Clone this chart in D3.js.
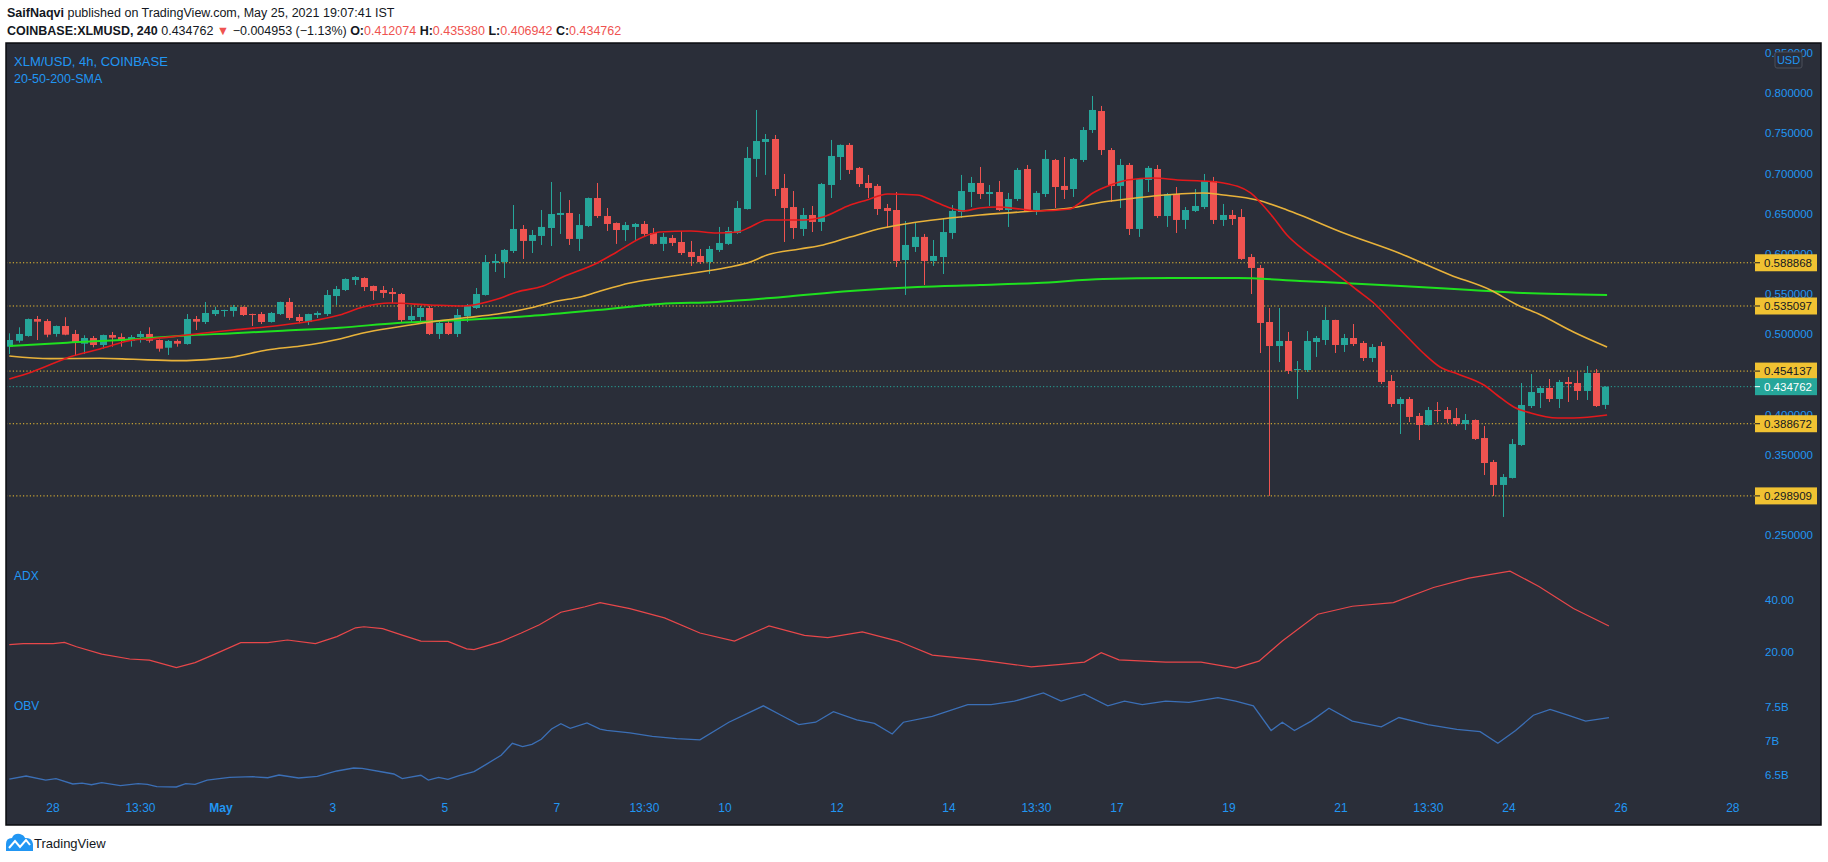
<!DOCTYPE html>
<html><head><meta charset="utf-8">
<script src="https://cdn.jsdelivr.net/npm/d3@7"></script>
<style>
body{margin:0;background:#fff;}
svg{display:block;font-family:"Liberation Sans",Arial,sans-serif;}
</style>
</head><body>
<svg id="chart" width="1828" height="862"></svg>
<script>
// ---------------- DATA ----------------
const firstBar = "2021-04-27T05:30";   // IST wall-clock time of first 4h bar
const opens = [.4845,.4919,.4978,.5189,.5164,.5003,.5102,.5003,.4882,.4953,.4866,.4990,.4965,.4916,.4965,.5003,.4928,.4832,.4916,.4878,
.5189,.5152,.5251,.5292,.5289,.5339,.5251,.5251,.5152,.5251,.5401,.5214,.5152,.5239,.5251,.5475,.5550,.5674,.5699,.5600,
.5550,.5525,.5500,.5177,.5214,.5326,.5003,.5140,.5003,.5227,.5326,.5488,.5886,.5898,.6035,.6309,.6160,.6222,.6321,.6483,
.6508,.6185,.6346,.6694,.6470,.6383,.6296,.6334,.6371,.6259,.6123,.6197,.6147,.6023,.5973,.5898,.6048,.6123,.6259,.6557,
.7180,.7391,.7428,.6819,.6582,.6309,.6483,.6396,.6856,.7204,.7354,.7068,.6881,.6844,.6570,.6545,.5923,.6085,.6210,.5911,
.5960,.6259,.6520,.6769,.6881,.6744,.6769,.6545,.6682,.7055,.6545,.6744,.7167,.6844,.6806,.7167,.7540,.7776,.7291,.6844,
.7105,.6309,.6918,.7055,.6470,.6744,.6421,.6533,.6582,.6906,.6421,.6483,.6458,.5960,.5824,.5152,.4853,.4916,.4555,.4555,
.4903,.4928,.5177,.4866,.4953,.4891,.4704,.4853,.4418,.4132,.4194,.3983,.3871,.4057,.4057,.3958,.3883,.3933,.3709,.3411,
.3125,.3212,.3622,.4107,.4269,.4331,.4194,.4406,.4393,.4294,.4518,.412074];
const highs = [.5011,.5086,.5195,.5227,.5189,.5108,.5211,.5053,.4987,.4978,.4995,.5028,.5011,.4990,.5040,.5086,.4935,.4928,.4936,.5251,
.5227,.5401,.5342,.5305,.5364,.5345,.5255,.5276,.5276,.5405,.5451,.5251,.5255,.5285,.5550,.5600,.5695,.5724,.5708,.5605,
.5600,.5575,.5513,.5339,.5351,.5351,.5177,.5177,.5314,.5376,.5575,.5985,.5998,.6060,.6607,.6358,.6296,.6545,.6893,.6769,
.6669,.6495,.6700,.6881,.6570,.6390,.6396,.6383,.6408,.6321,.6259,.6234,.6284,.6160,.6060,.6097,.6334,.6334,.6657,.7329,
.7789,.7490,.7478,.6993,.6781,.6570,.6595,.6881,.7416,.7360,.7378,.7080,.6981,.6868,.6620,.6769,.6408,.6383,.6247,.6172,
.6446,.6607,.6981,.6956,.7080,.6856,.6906,.6757,.7068,.7105,.6781,.7291,.7180,.7204,.7192,.7577,.7963,.7839,.7316,.7180,
.7130,.6943,.7092,.7105,.6757,.6831,.6582,.6806,.6993,.6956,.6620,.6545,.6557,.5998,.5861,.5326,.5326,.5028,.4667,.5040,
.4978,.5339,.5180,.5003,.5127,.4916,.4878,.4903,.4493,.4219,.4219,.4020,.4095,.4157,.4095,.4082,.4008,.3940,.3858,.3436,
.3261,.3697,.4393,.4505,.4356,.4443,.4431,.4468,.4543,.4605,.4567,.435380];
const lows = [.4754,.4895,.4969,.4928,.4962,.4969,.4987,.4729,.4754,.4837,.4820,.4845,.4845,.4845,.4895,.4895,.4783,.4742,.4845,.4870,
.5053,.5127,.5227,.5218,.5218,.5227,.5102,.5127,.5145,.5239,.5177,.5136,.5115,.5202,.5227,.5364,.5537,.5612,.5537,.5426,
.5451,.5388,.5140,.5152,.5152,.4990,.4941,.4990,.4965,.5152,.5314,.5480,.5774,.5699,.6010,.5936,.6010,.6110,.6097,.6247,
.6110,.6035,.6334,.6446,.6284,.6123,.6160,.6172,.6222,.6115,.6035,.6097,.5985,.5849,.5873,.5749,.6023,.6110,.6247,.6550,
.6956,.6981,.6719,.6147,.6185,.6222,.6271,.6284,.6694,.6918,.6993,.6831,.6694,.6483,.6321,.5836,.5488,.6023,.5612,.5849,
.5749,.6185,.6446,.6582,.6682,.6595,.6533,.6334,.6657,.6520,.6483,.6707,.6570,.6682,.6707,.7142,.7503,.7229,.6645,.6570,
.6234,.6210,.6769,.6446,.6334,.6259,.6309,.6520,.6557,.6371,.6346,.6358,.5923,.5500,.4766,.2989,.4654,.4505,.4194,.4530,
.4717,.4866,.4766,.4779,.4853,.4667,.4654,.4381,.4095,.3759,.3908,.3684,.3865,.3908,.3896,.3858,.3809,.3684,.3249,.2988,
.2727,.3205,.3610,.4082,.4082,.4157,.4082,.4157,.4182,.4182,.4095,.406942];
const closes = [.4928,.5003,.5189,.5156,.4994,.5102,.4994,.4895,.4953,.4866,.4990,.4957,.4916,.4965,.5003,.4919,.4820,.4916,.4882,.5189,
.5156,.5264,.5301,.5301,.5339,.5239,.5239,.5152,.5264,.5401,.5202,.5164,.5251,.5264,.5488,.5562,.5687,.5712,.5587,.5537,
.5513,.5500,.5177,.5227,.5326,.5003,.5140,.5003,.5239,.5351,.5500,.5898,.5911,.6048,.6309,.6160,.6234,.6334,.6495,.6508,
.6185,.6358,.6694,.6470,.6371,.6296,.6358,.6371,.6247,.6123,.6210,.6135,.6010,.5960,.5898,.6060,.6135,.6284,.6570,.7192,
.7403,.7428,.6806,.6570,.6321,.6483,.6396,.6868,.7217,.7354,.7043,.6868,.6819,.6557,.6533,.5911,.6110,.6210,.5911,.5973,
.6271,.6533,.6781,.6881,.6744,.6769,.6545,.6682,.7043,.6533,.6757,.7180,.6831,.6794,.7180,.7540,.7789,.7291,.6844,.7105,
.6309,.6931,.7068,.6470,.6744,.6421,.6545,.6595,.6906,.6421,.6483,.6433,.5936,.5824,.5140,.4853,.4916,.4543,.4567,.4916,
.4953,.5177,.4866,.4953,.4878,.4704,.4841,.4406,.4132,.4194,.3971,.3871,.4057,.4045,.3946,.3883,.3933,.3697,.3398,.3125,
.3224,.3634,.4120,.4281,.4331,.4194,.4406,.4381,.4294,.4518,.4107,.434762];

// moving averages: [bar index, value]
const sma20 = [[0,.4443],[2.5,.4534],[6.8,.4729],[9.7,.4816],[13.3,.4928],[15.1,.4941],[19,.4990],[24,.5053],[28.7,.5106],[33,.5177],[35.4,.5239],[37.9,.5339],[40.8,.5388],[45.1,.5364],[48.6,.5351],[52.3,.5438],[54.4,.5525],[57.2,.5600],[59.3,.5712],[63,.5886],[65.1,.6023],[67.9,.6210],[69.7,.6271],[73,.6284],[75.8,.6259],[78,.6271],[79.4,.6334],[81.2,.6421],[85.1,.6421],[87.2,.6458],[90.1,.6607],[91.9,.6669],[94.1,.6744],[97.3,.6731],[99,.6657],[100.8,.6570],[102.2,.6533],[104,.6570],[105.9,.6582],[108.3,.6557],[110.1,.6533],[113.7,.6557],[114.4,.6607],[116.1,.6757],[118,.6856],[119.8,.6918],[122.6,.6943],[125.2,.6918],[127.9,.6906],[130.1,.6881],[133,.6757],[134,.6645],[135.4,.6458],[136.9,.6234],[138.3,.6085],[141.4,.5823],[144.4,.5550],[146.2,.5388],[148,.5177],[149.8,.4965],[151.5,.4766],[153.3,.4592],[155.2,.4505],[156.9,.4431],[158,.4368],[159.4,.4244],[161.2,.4095],[163,.4020],[165.9,.3958],[167.6,.3958],[171.2,.3995]];
const sma50 = [[0,.4729],[4.4,.4696],[9.7,.4701],[13.3,.4688],[18,.4671],[22.3,.4696],[24,.4717],[27.6,.4804],[31.2,.4853],[35.4,.4941],[37.9,.5015],[41.6,.5090],[45.1,.5152],[48.6,.5202],[52.3,.5251],[55.8,.5326],[58.7,.5413],[61.2,.5463],[63,.5525],[66.5,.5637],[69.7,.5699],[74,.5774],[77.2,.5836],[79.4,.5898],[81.2,.5985],[84.7,.6060],[87.2,.6110],[90.1,.6209],[93.6,.6321],[97.3,.6396],[100.8,.6446],[104,.6483],[108.3,.6520],[113.7,.6570],[117.2,.6645],[119.8,.6682],[122.6,.6719],[127.9,.6757],[130.1,.6731],[133.7,.6669],[136.9,.6545],[138.3,.6483],[142.7,.6271],[148.9,.6010],[154.4,.5737],[158.7,.5550],[161.6,.5364],[164.1,.5239],[167.6,.5028],[171.2,.4841]];
const sma200 = [[0,.4854],[6.2,.4895],[13.3,.4937],[18.6,.4982],[24,.5012],[29.3,.5044],[35.4,.5081],[41.6,.5140],[48.6,.5177],[55.8,.5227],[63,.5301],[69.7,.5376],[75.8,.5401],[82.9,.5463],[90.1,.5537],[97.3,.5587],[104,.5612],[110.1,.5637],[117.2,.5687],[124.4,.5699],[131.6,.5699],[138.3,.5662],[149.1,.5600],[156.6,.5550],[162.2,.5513],[171.2,.5488]];
const adx = [[0,22.8],[1.5,23.2],[4.7,23.2],[5.9,23.7],[7.2,22.0],[9.9,19.2],[12.9,17.3],[15,16.9],[17.9,14.0],[19.9,15.9],[21.9,19.0],[24.8,23.6],[27.7,23.6],[29.8,24.6],[32.8,23.2],[35.1,25.9],[37.1,29.3],[38,29.7],[40,29.0],[42.1,26.5],[44.1,24.2],[47,24.1],[49,21.2],[49.8,20.9],[52.7,24.0],[54.8,27.2],[56.8,30.5],[59.1,35.3],[60.5,36.4],[61.7,37.4],[63.3,39.0],[66.5,36.7],[70.2,33.1],[74,27.3],[77.7,24.2],[81.4,30.0],[85.2,26.4],[87.7,25.5],[91.4,27.7],[95.2,24.2],[98.9,18.8],[103.9,17.0],[109.5,14.3],[112.7,15.2],[115.2,16.1],[117,19.7],[118.9,17.0],[123.9,16.1],[127.7,16.1],[131.4,13.8],[133.9,16.5],[136.4,24.2],[140.2,34.5],[143.9,37.6],[148.3,39.0],[152.6,44.8],[156.4,48.4],[160.8,51.1],[163.9,45.2],[167.6,36.7],[171.4,30.0]];
const obv = [[0,6.441],[1.8,6.485],[3.9,6.426],[5,6.446],[6.8,6.368],[7.8,6.382],[8.8,6.357],[9.9,6.387],[11.9,6.343],[13.8,6.372],[14.8,6.363],[15.8,6.328],[17.9,6.324],[18.9,6.372],[19.9,6.363],[21.2,6.426],[23.6,6.466],[26.1,6.475],[27.7,6.460],[28.9,6.500],[31,6.456],[33,6.481],[35.1,6.559],[36.9,6.603],[37.8,6.598],[40,6.544],[41.2,6.515],[42.1,6.446],[44.1,6.496],[44.9,6.426],[46,6.466],[47,6.437],[48.2,6.490],[49.8,6.549],[51.1,6.657],[52.7,6.790],[53.9,6.966],[55,6.917],[56,6.951],[57,7.025],[58.1,7.176],[59.1,7.255],[60.1,7.186],[61.9,7.265],[63.3,7.176],[64,7.155],[66.5,7.121],[68.9,7.069],[71.5,7.034],[74,7.017],[77.1,7.276],[80.8,7.517],[82.7,7.379],[84.6,7.241],[86.4,7.276],[88.3,7.431],[90.8,7.310],[92.7,7.259],[94.6,7.103],[95.8,7.276],[98.9,7.362],[102.7,7.534],[105.2,7.534],[107.7,7.586],[110.8,7.707],[112.7,7.586],[115.2,7.690],[117.7,7.517],[119.5,7.586],[121.4,7.534],[123.9,7.586],[126.4,7.569],[129.5,7.638],[131.4,7.586],[133.3,7.517],[135.2,7.155],[136.4,7.276],[137.7,7.155],[139.5,7.293],[141.4,7.483],[143.9,7.293],[147,7.207],[148.9,7.345],[152,7.241],[155.1,7.172],[157.6,7.138],[159.5,6.966],[161.4,7.155],[163.3,7.379],[165.1,7.466],[167,7.379],[168.9,7.293],[171.4,7.345]];

const levels = [0.588868, 0.535097, 0.454137, 0.388672, 0.298909];
const lastPrice = 0.434762;
const priceTicks = [0.25,0.30,0.35,0.40,0.45,0.50,0.55,0.60,0.65,0.70,0.75,0.80,0.85];
const adxTicks = [20, 40];
const obvTicks = [6.5, 7, 7.5];
const obvTickLabels = ["6.5B","7B","7.5B"];
const timeTicks = ["2021-04-28T00:00","2021-04-29T13:30","2021-05-01T00:00","2021-05-03T00:00","2021-05-05T00:00","2021-05-07T00:00","2021-05-08T13:30","2021-05-10T00:00","2021-05-12T00:00","2021-05-14T00:00","2021-05-15T13:30","2021-05-17T00:00","2021-05-19T00:00","2021-05-21T00:00","2021-05-22T13:30","2021-05-24T00:00","2021-05-26T00:00","2021-05-28T00:00"];
const timeTickLabels = ["28","13:30","May","3","5","7","13:30","10","12","14","13:30","17","19","21","13:30","24","26","28"];

// ---------------- LAYOUT ----------------
const svg = d3.select("#chart");
const BG = "#2a2e39", UP = "#26a69a", DN = "#ef5350", BLUE = "#2196f3", YEL = "#f0c232";
const frame = {x0: 6, x1: 1821, y0: 43, y1: 825};
const plotRight = 1755;
const parseT = d3.utcParse("%Y-%m-%dT%H:%M");
const t0 = parseT(firstBar);
const H4 = 4 * 3600 * 1000;
const barTime = i => new Date(+t0 + i * H4);

const x = d3.scaleUtc()
  .domain([parseT("2021-04-27T04:05"), parseT("2021-05-28T09:42")])
  .range([frame.x0, plotRight]);
const y = d3.scaleLinear().domain([0.2254, 0.8622]).range([555, frame.y0]);
const yAdx = d3.scaleLinear().domain([5.38, 55.38]).range([690, 560]);
const yObv = d3.scaleLinear().domain([6.206, 7.75]).range([795, 690]);

// header
const h1 = svg.append("text").attr("x", 7).attr("y", 17).attr("font-size", 12.5).attr("fill", "#131722");
h1.append("tspan").attr("font-weight", "bold").text("SaifNaqvi");
h1.append("tspan").text(" published on TradingView.com, May 25, 2021 19:07:41 IST");
const h2 = svg.append("text").attr("x", 7).attr("y", 35).attr("font-size", 12.5).attr("fill", "#131722");
h2.append("tspan").attr("font-weight", "bold").text("COINBASE:XLMUSD, 240");
h2.append("tspan").text(" 0.434762 ");
h2.append("tspan").attr("fill", DN).text("▼");
h2.append("tspan").text(" −0.004953 (−1.13%) ");
[["O:", "0.412074"], ["H:", "0.435380"], ["L:", "0.406942"], ["C:", "0.434762"]].forEach((p, k) => {
  h2.append("tspan").attr("font-weight", "bold").text((k ? " " : "") + p[0]);
  h2.append("tspan").attr("fill", DN).text(p[1]);
});

// frame
svg.append("rect").attr("x", frame.x0).attr("y", frame.y0)
  .attr("width", frame.x1 - frame.x0).attr("height", frame.y1 - frame.y0)
  .attr("fill", BG).attr("stroke", "#0b0c10").attr("stroke-width", 1.5);

svg.append("defs").append("clipPath").attr("id", "plotClip")
  .append("rect").attr("x", frame.x0 + 1).attr("y", frame.y0 + 1)
  .attr("width", plotRight - frame.x0 - 1).attr("height", frame.y1 - frame.y0 - 2);
const plot = svg.append("g").attr("clip-path", "url(#plotClip)");

// level lines
plot.selectAll("line.lvl").data(levels).join("line").attr("class", "lvl")
  .attr("x1", frame.x0).attr("x2", plotRight)
  .attr("y1", d => y(d)).attr("y2", d => y(d))
  .attr("stroke", YEL).attr("stroke-width", 1).attr("stroke-dasharray", "1.2,2.2");
plot.append("line").attr("x1", frame.x0).attr("x2", plotRight)
  .attr("y1", y(lastPrice)).attr("y2", y(lastPrice))
  .attr("stroke", UP).attr("stroke-width", 1).attr("stroke-dasharray", "1.2,2.2");

// candles
const bars = d3.range(opens.length).map(i => ({t: barTime(i), o: opens[i], h: highs[i], l: lows[i], c: closes[i]}));
const cg = plot.append("g");
cg.selectAll("line.wick").data(bars).join("line").attr("class", "wick")
  .attr("x1", d => Math.round(x(d.t)) + 0.5).attr("x2", d => Math.round(x(d.t)) + 0.5)
  .attr("y1", d => y(d.h)).attr("y2", d => y(d.l))
  .attr("stroke", d => d.c >= d.o ? UP : DN).attr("stroke-width", 1);
cg.selectAll("rect.body").data(bars).join("rect").attr("class", "body")
  .attr("x", d => Math.round(x(d.t)) - 3).attr("width", 7)
  .attr("y", d => y(Math.max(d.o, d.c)))
  .attr("height", d => Math.max(1, Math.abs(y(d.o) - y(d.c))))
  .attr("fill", d => d.c >= d.o ? UP : DN);

// SMAs
const maLine = d3.line().x(d => x(barTime(d[0]))).y(d => y(d[1])).curve(d3.curveMonotoneX);
plot.append("path").datum(sma200).attr("d", maLine).attr("fill", "none").attr("stroke", "#1fe01f").attr("stroke-width", 2);
plot.append("path").datum(sma50).attr("d", maLine).attr("fill", "none").attr("stroke", "#e8b23a").attr("stroke-width", 1.6);
plot.append("path").datum(sma20).attr("d", maLine).attr("fill", "none").attr("stroke", "#e3191c").attr("stroke-width", 1.6);

// ADX & OBV
plot.append("path").datum(adx)
  .attr("d", d3.line().x(d => x(barTime(d[0]))).y(d => yAdx(d[1])))
  .attr("fill", "none").attr("stroke", "#e8474a").attr("stroke-width", 1.2);
plot.append("path").datum(obv)
  .attr("d", d3.line().x(d => x(barTime(d[0]))).y(d => yObv(d[1])))
  .attr("fill", "none").attr("stroke", "#3b6fb6").attr("stroke-width", 1.3);

// legends
const legend = (tx, xx, yy, sz) => svg.append("text").attr("x", xx).attr("y", yy)
  .attr("font-size", sz).attr("fill", BLUE).text(tx);
legend("XLM/USD, 4h, COINBASE", 14, 66, 13);
legend("20-50-200-SMA", 14, 83, 12.5);
legend("ADX", 14, 580, 12);
legend("OBV", 14, 710, 12);

// axes
function styleAxis(g) {
  g.select(".domain").remove();
  g.selectAll(".tick line").remove();
  g.selectAll(".tick text").attr("fill", BLUE).attr("font-size", 11.5)
    .attr("font-family", "'Liberation Sans',Arial,sans-serif");
}
svg.append("g").attr("transform", `translate(${plotRight + 5},0)`)
  .call(d3.axisRight(y).tickValues(priceTicks).tickFormat(d3.format(".6f")).tickSize(0).tickPadding(5))
  .call(styleAxis);
svg.append("g").attr("transform", `translate(${plotRight + 5},0)`)
  .call(d3.axisRight(yAdx).tickValues(adxTicks).tickFormat(d3.format(".2f")).tickSize(0).tickPadding(5))
  .call(styleAxis);
svg.append("g").attr("transform", `translate(${plotRight + 5},0)`)
  .call(d3.axisRight(yObv).tickValues(obvTicks).tickFormat((d, i) => obvTickLabels[i]).tickSize(0).tickPadding(5))
  .call(styleAxis);
const xa = svg.append("g").attr("transform", `translate(0,803)`)
  .call(d3.axisBottom(x).tickValues(timeTicks.map(parseT)).tickFormat((d, i) => timeTickLabels[i]).tickSize(0).tickPadding(0))
  .call(styleAxis);
xa.selectAll(".tick text").attr("font-size", 12).attr("font-weight", (d, i) => timeTickLabels[i] === "May" ? "bold" : null);

// USD badge
svg.append("rect").attr("x", 1775).attr("y", 52).attr("width", 27).attr("height", 16).attr("rx", 2)
  .attr("fill", BG).attr("stroke", "#4a4e5a");
svg.append("text").attr("x", 1788.5).attr("y", 64).attr("text-anchor", "middle")
  .attr("font-size", 11).attr("fill", BLUE).text("USD");

// price labels
function badge(v, fill, txt) {
  const g = svg.append("g").attr("transform", `translate(${plotRight},${y(v)})`);
  g.append("rect").attr("x", 0).attr("y", -8.5).attr("width", 62).attr("height", 17).attr("fill", fill);
  g.append("line").attr("x1", 0).attr("x2", 5).attr("y1", 0).attr("y2", 0).attr("stroke", txt);
  g.append("text").attr("x", 9).attr("y", 4).attr("font-size", 11.5).attr("fill", txt).text(d3.format(".6f")(v));
}
levels.forEach(v => badge(v, YEL, "#131722"));
badge(lastPrice, UP, "#ffffff");

// TradingView logo
const logo = svg.append("g").attr("transform", "translate(6,833)");
logo.append("path").attr("d", "M0,18 L0,11 Q0,5 6,5 Q8,0 14,1 Q18,2 19,5 Q26,4 27,11 L27,18 Z").attr("fill", "#2196f3");
logo.append("path").attr("d", "M3,15 L9,8 L14,14 L20,7 L24,12").attr("fill", "none").attr("stroke", "#fff").attr("stroke-width", 2);
svg.append("text").attr("x", 34).attr("y", 848).attr("font-size", 13).attr("fill", "#131722").text("TradingView");
</script>
</body></html>
